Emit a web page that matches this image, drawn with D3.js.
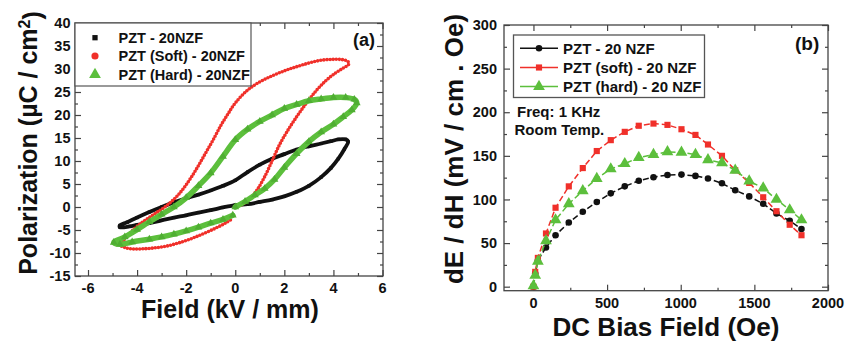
<!DOCTYPE html>
<html>
<head>
<meta charset="utf-8">
<script src="https://cdn.jsdelivr.net/npm/d3@7"></script>
<style>
  body { margin: 0; background: #fff; }
  text { font-family: "Liberation Sans", Arial, sans-serif; font-weight: bold; fill: #111; }
</style>
</head>
<body>
<div id="chart"></div>
<script>
// ---- (a) P-E loops, [field kV/mm, polarization uC/cm2] ----
const loopPZT = [[0, 0.4], [0.5, 0.6], [1, 1.1], [1.5, 1.6], [2, 2.3], [2.5, 3.3], [3, 4.6], [3.5, 6.5],
  [3.9, 8.5], [4.2, 10.5], [4.45, 12.6], [4.6, 14.2], [4.5, 14.7], [4.2, 14.7], [3.9, 14.3], [3.5, 13.8],
  [3, 13.2], [2.5, 12.5], [2, 11.5], [1.5, 10.5], [1, 9.2], [0.5, 7.6], [0, 5.8], [-0.5, 4.6], [-1, 3.6],
  [-1.5, 2.7], [-2, 1.9], [-2.5, 1.0], [-3, 0], [-3.5, -1.1], [-4, -2.3], [-4.4, -3.3], [-4.7, -4.0],
  [-4.7, -4.4], [-4.3, -4.2], [-4, -3.9], [-3.5, -3.5], [-3, -2.9], [-2.5, -2.3], [-2, -1.8], [-1.5, -1.2],
  [-1, -0.7], [-0.5, -0.1], [0, 0.4]];
const loopSoft = [[0, 0], [0.3, 0.6], [0.6, 1.8], [0.9, 3.8], [1.2, 6.6], [1.5, 10], [1.8, 13.5], [2.1, 16.3],
  [2.5, 19.6], [2.9, 22.6], [3.3, 25.3], [3.7, 27.5], [4.1, 29.2], [4.4, 30.2], [4.62, 31], [4.6, 31.6],
  [4.4, 32], [4, 32.1], [3.5, 31.9], [3, 31.3], [2.5, 30.5], [2, 29.6], [1.5, 28.5], [1, 27.2], [0.5, 25.4],
  [0, 22.6], [-0.3, 20.2], [-0.6, 17.6], [-0.9, 14.6], [-1.2, 11.8], [-1.5, 9.0], [-1.8, 6.4], [-2.1, 4.1],
  [-2.4, 2.2], [-2.8, 0.3], [-3.2, -1.2], [-3.6, -2.6], [-4, -4.2], [-4.3, -5.7], [-4.55, -7.2], [-4.7, -8.2],
  [-4.5, -8.8], [-4.2, -9.1], [-3.8, -9.1], [-3.3, -8.9], [-2.8, -8.5], [-2.3, -7.8], [-1.8, -6.9],
  [-1.3, -5.8], [-0.8, -4.6], [-0.4, -3.5], [-0.1, -2.5]];
const loopHard = [[0, 0], [0.4, 1.2], [0.8, 2.6], [1.2, 4.0], [1.6, 6.0], [2, 8.6], [2.5, 11.6], [3, 14.2],
  [3.5, 16.3], [4, 18.0], [4.4, 19.6], [4.75, 21.1], [4.95, 22.6], [4.85, 23.4], [4.5, 23.8], [4, 23.8],
  [3.5, 23.5], [3, 23.1], [2.5, 22.3], [2, 21.4], [1.5, 20.0], [1, 18.6], [0.5, 16.9], [0, 14.6],
  [-0.5, 11.0], [-1, 7.4], [-1.5, 4.6], [-2, 2.0], [-2.5, 0.0], [-3, -1.6], [-3.5, -3.2], [-4, -4.9],
  [-4.5, -6.5], [-4.95, -7.7], [-4.7, -8.1], [-4.2, -7.6], [-3.5, -7.0], [-3, -6.5], [-2.5, -5.9],
  [-2, -5.2], [-1.5, -4.4], [-1, -3.5], [-0.5, -2.7], [-0.1, -1.8]];
const loopNames = ["PZT - 20NZF", "PZT (Soft) - 20NZF", "PZT (Hard) - 20NZF"];

// ---- (b) ME coefficient vs DC bias ----
const biasField = [0, 12, 30, 85, 150, 240, 335, 430, 525, 620, 715, 815, 910, 1005, 1100, 1185, 1280, 1370, 1465, 1560, 1650, 1740, 1820];
const mePZT  = [0, 15, 30, 45, 59, 73.5, 86, 97, 107, 115, 121.5, 125.5, 128, 128.5, 127, 124, 118.5, 110.5, 103.5, 95, 84, 75.5, 66];
const meSoft = [0, 17, 33, 61, 90.5, 115, 136, 155.5, 168, 177.5, 184.5, 187, 185.5, 180.5, 174, 163, 150, 133.5, 119, 102.5, 86.5, 71, 59];
const meHard = [1, 13, 29, 52.5, 76.5, 95, 110, 124, 135, 141, 148, 151.5, 154.5, 154, 151.5, 145.5, 142, 133.5, 121, 113, 100, 88, 76.5];
const meNames = ["PZT - 20 NZF", "PZT (soft) - 20 NZF", "PZT (hard) - 20 NZF"];

const colors = ["#111", "#f0302a", "#5cbf3c"];
const shapes = [d3.symbolSquare, d3.symbolCircle, d3.symbolTriangle];

const svg = d3.select("#chart").append("svg")
    .attr("width", 845).attr("height", 343)
    .style("background", "#fff");

function drawAxes(x, y, xMajor, xMinor, yMajor, yMinor, xLabelY, yLabelX, fontSize) {
    const [x0, x1] = x.range();
    const [y0, y1] = y.range();
    const g = svg.append("g").attr("class", "axes");
    const ticks = [
        [d3.axisBottom, `translate(0,${y0})`, x],
        [d3.axisTop, `translate(0,${y1})`, x],
        [d3.axisLeft, `translate(${x0},0)`, y],
        [d3.axisRight, `translate(${x1},0)`, y]
    ];
    ticks.forEach(([axis, tr, s]) => {
        const isX = s === x;
        g.append("g").attr("transform", tr)
            .call(axis(s).tickValues(isX ? xMinor : yMinor).tickSize(-3).tickFormat(""));
        g.append("g").attr("transform", tr)
            .call(axis(s).tickValues(isX ? xMajor : yMajor).tickSize(-6).tickFormat(""));
    });
    g.selectAll(".domain").remove();
    g.selectAll(".tick line").attr("stroke", "#444").attr("stroke-width", 1.2);
    g.append("rect")
        .attr("x", x0).attr("y", y1)
        .attr("width", x1 - x0).attr("height", y0 - y1)
        .attr("fill", "none").attr("stroke", "#444").attr("stroke-width", 1.3);

    g.selectAll(".xl").data(xMajor).enter().append("text")
        .attr("x", d => x(d)).attr("y", xLabelY)
        .attr("text-anchor", "middle").style("font-size", fontSize + "px")
        .text(d => String(d));
    g.selectAll(".yl").data(yMajor).enter().append("text")
        .attr("x", yLabelX).attr("y", d => y(d)).attr("dy", "0.36em")
        .attr("text-anchor", "end").style("font-size", fontSize + "px")
        .text(d => String(d));
}

// ================= panel (a) =================
const xa = d3.scaleLinear().domain([-6.53, 6.02]).range([75, 383]);
const ya = d3.scaleLinear().domain([-15, 40]).range([276, 23]);

drawAxes(xa, ya,
    d3.range(-6, 7, 2), d3.range(-5, 7, 2),
    d3.range(-15, 41, 5), d3.range(-12.5, 40, 5),
    292.5, 70.5, 14.5);

const loopLine = d3.line().x(d => xa(d[0])).y(d => ya(d[1])).curve(d3.curveCatmullRom);
const loops = [loopPZT, loopSoft, loopHard];
const loopWidth = [3.8, 3.6, 5.5];
const loopDash = [null, "0,3.1", null];
const loopMark = [10, 0, 26];

const loopG = svg.append("g").attr("class", "loops");
loops.forEach((data, i) => {
    loopG.append("path")
        .attr("d", loopLine(data))
        .attr("fill", "none")
        .attr("stroke", colors[i])
        .attr("stroke-width", loopWidth[i])
        .attr("stroke-linecap", "round")
        .attr("stroke-linejoin", "round")
        .attr("stroke-dasharray", loopDash[i]);
    if (loopMark[i] > 0) {
        loopG.selectAll(null).data(data).enter().append("path")
            .attr("d", d3.symbol().type(shapes[i]).size(loopMark[i]))
            .attr("transform", d => `translate(${xa(d[0])},${ya(d[1])})`)
            .attr("fill", i === 2 ? "#4fae32" : colors[i]);
    }
});

// legend (a)
const legA = svg.append("g").attr("class", "legend-a");
legA.append("rect")
    .attr("x", 75).attr("y", 23).attr("width", 176).attr("height", 63)
    .attr("fill", "#fff").attr("stroke", "#555").attr("stroke-width", 1.2);
const legARows = [37.7, 56, 74.5];
loopNames.forEach((name, i) => {
    legA.append("path")
        .attr("d", d3.symbol().type(shapes[i]).size([28, 40, 60][i]))
        .attr("transform", `translate(95,${legARows[i]})`)
        .attr("fill", colors[i]);
    legA.append("text")
        .attr("x", 118.5).attr("y", legARows[i]).attr("dy", "0.36em")
        .style("font-size", "14.5px")
        .text(name);
});

svg.append("text").attr("x", 353).attr("y", 46).style("font-size", "18px").text("(a)");

svg.append("text")
    .attr("x", 230).attr("y", 318)
    .attr("text-anchor", "middle").style("font-size", "25px")
    .text("Field (kV / mm)");

const yTitleA = svg.append("text")
    .attr("transform", "translate(37,143) rotate(-90)")
    .attr("text-anchor", "middle").style("font-size", "25px");
yTitleA.append("tspan").text("Polarization (\u00b5C / cm");
yTitleA.append("tspan").attr("dy", "-0.45em").style("font-size", "16px").text("2");
yTitleA.append("tspan").attr("dy", "0.45em").text(")");

// ================= panel (b) =================
const xb = d3.scaleLinear().domain([-200, 2000]).range([504, 828]);
const yb = d3.scaleLinear().domain([-4.6, 300]).range([290.7, 25]);

drawAxes(xb, yb,
    d3.range(0, 2001, 500), d3.range(250, 2000, 500),
    d3.range(0, 301, 50), d3.range(25, 300, 50),
    308, 497, 14.5);

const meSeries = [mePZT, meSoft, meHard];
const meShapes = [d3.symbolCircle, d3.symbolSquare, d3.symbolTriangle];
const meSize = [34, 38, 60];
const meLine = d3.line().x((d, i) => xb(biasField[i])).y(d => yb(d));

const meG = svg.append("g").attr("class", "me");
meSeries.forEach((vals, i) => {
    meG.append("path")
        .attr("d", meLine(vals))
        .attr("fill", "none")
        .attr("stroke", colors[i])
        .attr("stroke-width", 1.5)
        .attr("stroke-dasharray", "6,3");
    meG.selectAll(null).data(vals).enter().append("path")
        .attr("d", d3.symbol().type(meShapes[i]).size(meSize[i]))
        .attr("transform", (d, j) => `translate(${xb(biasField[j])},${yb(d)})`)
        .attr("fill", colors[i]);
});

// legend (b)
const legB = svg.append("g").attr("class", "legend-b");
legB.append("rect")
    .attr("x", 513.5).attr("y", 35).attr("width", 191).attr("height", 62.5)
    .attr("fill", "#fff").attr("stroke", "#555").attr("stroke-width", 1.3);
const legBRows = [48.3, 67.5, 86.5];
meNames.forEach((name, i) => {
    legB.append("line")
        .attr("x1", 520).attr("x2", 558)
        .attr("y1", legBRows[i]).attr("y2", legBRows[i])
        .attr("stroke", colors[i]).attr("stroke-width", 1.5);
    legB.append("path")
        .attr("d", d3.symbol().type(meShapes[i]).size(meSize[i]))
        .attr("transform", `translate(539,${legBRows[i]})`)
        .attr("fill", colors[i]);
    legB.append("text")
        .attr("x", 563).attr("y", legBRows[i]).attr("dy", "0.36em")
        .style("font-size", "15px")
        .text(name);
});

svg.append("text").attr("x", 517).attr("y", 116.5).style("font-size", "15px").text("Freq: 1 KHz");
svg.append("text").attr("x", 514.5).attr("y", 135).style("font-size", "15px").text("Room Temp.");
svg.append("text").attr("x", 795).attr("y", 50).style("font-size", "19px").text("(b)");

svg.append("text")
    .attr("x", 666).attr("y", 336)
    .attr("text-anchor", "middle").style("font-size", "26px")
    .text("DC Bias Field (Oe)");

svg.append("text")
    .attr("transform", "translate(463,149) rotate(-90)")
    .attr("text-anchor", "middle").style("font-size", "26px")
    .text("dE / dH (mV / cm . Oe)");
</script>
</body>
</html>
